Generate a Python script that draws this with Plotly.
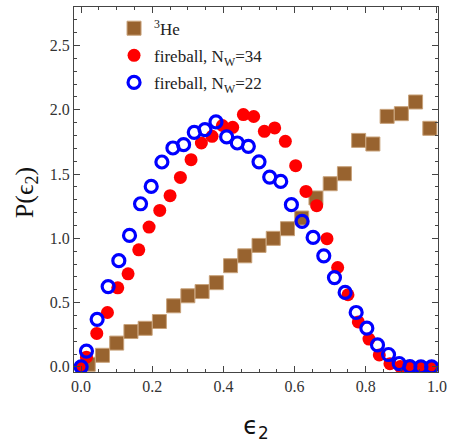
import plotly.graph_objects as go

# 3He
he_x = [0.02, 0.06, 0.10, 0.14, 0.18, 0.22, 0.26, 0.30, 0.34, 0.38, 0.42, 0.46, 0.50,
        0.54, 0.58, 0.62, 0.66, 0.70, 0.74, 0.78, 0.82, 0.86, 0.90, 0.94, 0.98]
he_y = [0.02, 0.09, 0.185, 0.275, 0.30, 0.353, 0.475, 0.553, 0.586, 0.655, 0.787, 0.864, 0.945,
        1.00, 1.075, 1.158, 1.314, 1.425, 1.503, 1.762, 1.734, 1.949, 1.970, 2.061, 1.856]

# fireball, N_W=34
r_x = [0.0, 0.015, 0.044, 0.074, 0.103, 0.132, 0.162, 0.191, 0.221, 0.250, 0.279, 0.309,
       0.338, 0.368, 0.397, 0.426, 0.456, 0.485, 0.515, 0.544, 0.574, 0.603, 0.632, 0.662,
       0.691, 0.721, 0.750, 0.779, 0.809, 0.838, 0.868, 0.897, 0.926, 0.956, 0.985]
r_y = [0.0, 0.075, 0.26, 0.423, 0.615, 0.724, 0.911, 1.088, 1.217, 1.332, 1.474, 1.612,
       1.742, 1.794, 1.878, 1.864, 1.963, 1.948, 1.833, 1.859, 1.755, 1.565, 1.365, 1.254,
       0.997, 0.773, 0.561, 0.35, 0.216, 0.093, 0.025, 0.002, 0.0, 0.0, 0.0]

# fireball, N_W=22
b_x = [0.0, 0.015, 0.045, 0.076, 0.106, 0.136, 0.167, 0.197, 0.227, 0.258, 0.288, 0.318,
       0.348, 0.379, 0.409, 0.439, 0.470, 0.500, 0.530, 0.561, 0.591, 0.621, 0.652, 0.682,
       0.712, 0.742, 0.773, 0.803, 0.833, 0.864, 0.894, 0.924, 0.955, 0.985]
b_y = [0.0, 0.123, 0.37, 0.625, 0.826, 1.023, 1.269, 1.404, 1.594, 1.703, 1.729, 1.825,
       1.846, 1.906, 1.789, 1.742, 1.716, 1.595, 1.477, 1.443, 1.262, 1.132, 1.007, 0.864,
       0.695, 0.579, 0.423, 0.301, 0.171, 0.096, 0.026, 0.002, 0.0, 0.0]

x_ticks = [0.0, 0.2, 0.4, 0.6, 0.8, 1.0]
y_ticks = [0.0, 0.5, 1.0, 1.5, 2.0, 2.5]

SERIF = "Liberation Serif, Times New Roman, serif"

fig = go.Figure()
fig.add_trace(go.Scatter(
    x=he_x, y=he_y, mode="markers", name="<sup>3</sup>He", legendgroup="he",
    marker=dict(symbol="square", size=14, color="#98632F",
                line=dict(color="#C8A27A", width=1))))
fig.add_trace(go.Scatter(
    x=r_x, y=r_y, mode="markers", name="fireball, N<sub>W</sub>=34", legendgroup="r",
    marker=dict(symbol="circle", size=13, color="#FF0000", line=dict(width=0))))
fig.add_trace(go.Scatter(
    x=b_x, y=b_y, mode="markers", name="fireball, N<sub>W</sub>=22", legendgroup="b",
    marker=dict(symbol="circle-open", size=12, color="#0000FF",
                line=dict(color="#0000FF", width=3.2))))

axis_common = dict(
    showline=True, linecolor="#444444", linewidth=1.2, mirror="allticks",
    ticks="inside", ticklen=6, tickwidth=1, tickcolor="#444444",
    showgrid=False, zeroline=False, automargin=False,
    tickfont=dict(family=SERIF, size=16, color="#333333"),
)

fig.update_xaxes(
    range=[-0.02, 1.003], tickvals=x_ticks, ticktext=[f"{v:.1f}" for v in x_ticks],
    minor=dict(ticks="inside", dtick=0.05, tick0=0, ticklen=3, tickcolor="#444444"),
    title=dict(text="ϵ<sub>2</sub>", font=dict(family="DejaVu Sans, sans-serif", size=24, color="#111111"),
               standoff=22),
    **axis_common)
fig.update_yaxes(
    range=[-0.04, 2.8], tickvals=y_ticks, ticktext=[f"{v:.1f}" for v in y_ticks],
    minor=dict(ticks="inside", dtick=0.1, tick0=0, ticklen=3, tickcolor="#444444"),
    **axis_common)

fig.add_annotation(
    text="P(ϵ<sub>2</sub>)", textangle=-90, showarrow=False,
    xref="paper", yref="paper", x=0, y=0.49, xanchor="center", yanchor="middle",
    xshift=-48, font=dict(family=SERIF, size=26, color="#111111"))

fig.update_layout(
    width=449, height=445,
    margin=dict(l=74, r=11, t=7, b=73),
    plot_bgcolor="white", paper_bgcolor="white",
    showlegend=True,
    legend=dict(x=0.11, y=0.99, xanchor="left", yanchor="top",
                font=dict(family=SERIF, size=17, color="#222222"),
                bgcolor="rgba(0,0,0,0)", itemwidth=30, tracegroupgap=2),
)

fig.write_html("out.html", config={"displayModeBar": False},
               post_script="document.body.style.margin='0';")
